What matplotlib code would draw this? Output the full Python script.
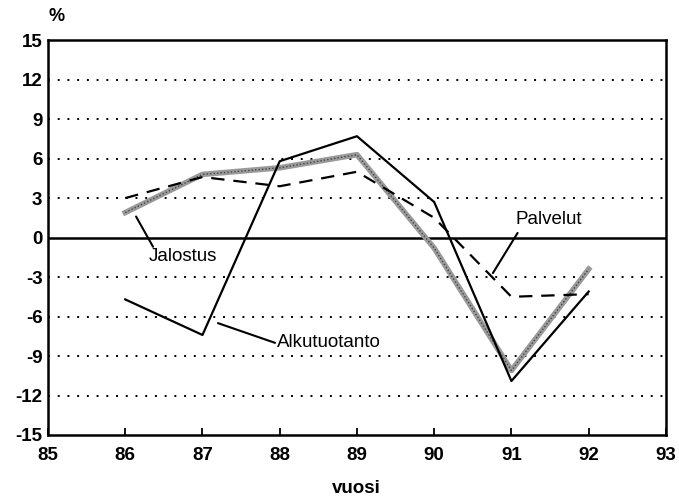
import matplotlib.pyplot as plt

plt.rcParams['font.family'] = 'Liberation Sans'
plt.rcParams['axes.unicode_minus'] = False

# Data
years = [86, 87, 88, 89, 90, 91, 92]
alkutuotanto = [-4.7, -7.4, 5.8, 7.7, 2.7, -10.9, -4.1]
jalostus = [1.9, 4.8, 5.3, 6.3, -0.8, -10.1, -2.4]
palvelut = [3.0, 4.6, 3.9, 5.0, 1.5, -4.5, -4.3]

fig = plt.figure(figsize=(6.79, 5.03), dpi=100)
ax = fig.add_axes([0.0707, 0.1352, 0.910, 0.785])

# Grid lines
for g in [-12, -9, -6, -3, 3, 6, 9, 12]:
    ax.axhline(g, color='black', linestyle=(0, (1, 4)), linewidth=1.4, zorder=1)
ax.axhline(0, color='black', linewidth=1.8, zorder=1)

# Series
ax.plot(years, jalostus, color='#9a9a9a', linewidth=4, zorder=2)
ax.plot(years, jalostus, color='#444444', linewidth=1.0, linestyle=(0, (1, 1.5)), zorder=3)
ax.plot(years, palvelut, color='black', linewidth=1.6, linestyle=(0, (6, 4)), zorder=3)
ax.plot(years, alkutuotanto, color='black', linewidth=1.6, zorder=4)

# Labels with leader lines
leader = dict(arrowstyle='-', color='black', lw=1.5, shrinkA=0, shrinkB=0)
ax.annotate('', xy=(86.14, 1.6), xytext=(86.36, -0.7), arrowprops=leader)
ax.text(86.31, -1.45, 'Jalostus', fontsize=13.5, ha='left', va='center')
ax.annotate('', xy=(87.2, -6.5), xytext=(87.94, -8.0), arrowprops=leader)
ax.text(87.96, -8.0, 'Alkutuotanto', fontsize=13.5, ha='left', va='center')
ax.annotate('', xy=(91.08, 0.35), xytext=(90.76, -2.7), arrowprops=leader)
ax.text(91.05, 1.4, 'Palvelut', fontsize=13.5, ha='left', va='center')

# Axes
ax.set_xlim(85, 93)
ax.set_ylim(-15, 15)
ax.set_xticks(range(85, 94))
ax.set_yticks(range(-15, 16, 3))
ax.tick_params(axis='x', direction='in', length=5, width=1.3, pad=9, labelsize=13.5)
ax.tick_params(axis='y', length=0, pad=4, labelsize=13.5)
for lab in ax.get_xticklabels() + ax.get_yticklabels():
    lab.set_fontweight('bold')
for s in ax.spines.values():
    s.set_linewidth(1.8)

fig.text(0.084, 0.968, '%', fontsize=13, fontweight='bold', ha='center', va='center')
fig.text(0.525, 0.028, 'vuosi', fontsize=13.5, fontweight='bold', ha='center', va='center')

plt.savefig('out.png', dpi=100)
